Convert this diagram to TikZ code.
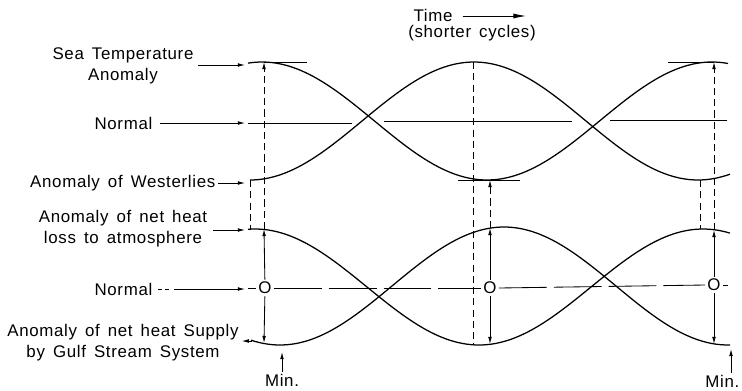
\documentclass[tikz,border=0pt]{standalone}
\usepackage{fontspec}
\setmainfont{Liberation Sans}[LetterSpace=4,WordSpace=1.5]
\usepackage{tikz}
\usetikzlibrary{arrows.meta,positioning,calc}

\begin{document}
\begin{tikzpicture}[
    x=0.025cm, y=-0.025cm,
    lbl/.style={align=center, font=\fontsize{12}{15}\selectfont, inner sep=1pt},
    zero/.style={font=\fontsize{12}{12}\selectfont, inner sep=1.5pt},
    curve/.style={line width=0.9pt},
    guide/.style={line width=0.6pt},
    vline/.style={line width=0.6pt, dash pattern=on 5pt off 3pt},
    ptr/.style={-{Latex[length=5pt,width=2.6pt]}, line width=0.6pt},
    bigptr/.style={-{Latex[length=9pt,width=3.6pt]}, line width=0.6pt}
]
    \useasboundingbox (0,0) rectangle (742,390);

    % upper panel: sea temperature and westerlies
    \draw [curve] plot[domain=248:728, samples=120] (\x, {121-59*cos(0.8*(\x-262))});
    \draw [curve] plot[domain=250:730, samples=120] (\x, {121+59*cos(0.80357*(\x-250))});
    \draw [guide] (248,123) -- (352,123);
    \draw [guide] (384,121) -- (572,121);
    \draw [guide] (610,120) -- (727,120);

    % lower panel: heat loss and heat supply
    \draw [curve] plot[domain=248:730, samples=120] (\x, {287-58*cos(0.80357*(\x-255))});
    \draw [curve] plot[domain=251:730, samples=120] (\x, {286+59*cos(0.80357*(\x-280))});

    % points on the curves
    \coordinate (st1) at (264,62);
    \coordinate (st2) at (490,180);
    \coordinate (st3) at (714,62);
    \coordinate (we1) at (250,180);
    \coordinate (we2) at (473,62);
    \coordinate (we3) at (700,180);
    \coordinate (hl0) at (250,229);
    \coordinate (hl1) at (264,229);
    \coordinate (hl2) at (473,345);
    \coordinate (hl3) at (714,230);
    \coordinate (hl3b) at (700,229);
    \coordinate (hs0) at (252,341);
    \coordinate (hs1) at (264,343);
    \coordinate (hs2m) at (490,228);
    \coordinate (hs2) at (490,344);
    \coordinate (hs3) at (714,344);

    % ticks at the extremes
    \draw [guide] (st1) -- (307,62);
    \draw [guide] (458,180) -- (520,180);
    \draw [guide] (668,62) -- (st3);

    % labels on the left
    \node [lbl] (sst) at (123,66) {Sea Temperature\\Anomaly};
    \node [lbl, anchor=east] (nrm1) at (154,123) {Normal};
    \node [lbl, anchor=east] (wst) at (217,183) {Anomaly of Westerlies};
    \node [lbl] (hloss) at (123,229) {Anomaly of net heat\\loss to atmosphere};
    \node [lbl, anchor=east] (nrm2) at (154,289) {Normal};
    \node [lbl] (hsup) at (123,343) {Anomaly of net heat Supply\\by Gulf Stream System};

    \coordinate (sstend) at (245,65);
    \coordinate (nrm1end) at (245,123);
    \coordinate (wstend) at (245,183);
    \coordinate (hlossend) at (245,230);
    \coordinate (nrm2end) at (245,289);
    \draw [ptr, shorten <=2pt] (sst.east |- sstend) -- (sstend);
    \draw [ptr, shorten <=4pt] (nrm1.east) -- (nrm1end);
    \draw [ptr, shorten <=1pt] (wst.east) -- (wstend);
    \draw [ptr, shorten <=3pt] (hloss.east |- hlossend) -- (hlossend);
    \draw [ptr, shorten <=3pt, dash pattern=on 3pt off 2pt on 3pt off 3pt on 60pt off 1pt] (nrm2.east) -- (nrm2end);
    \draw [ptr, shorten >=1pt] (hs0) -- (hsup.east |- hs0);

    % zero marks on the lower normal
    \node [zero] (o1) at (265,288) {O};
    \node [zero] (o2) at (490,288) {O};
    \node [zero] (o3) at (714,285) {O};
    \draw [guide] (248,288) -- (o1.west);
    \draw [guide, dash pattern=on 34pt off 5pt] (o1.east) -- (o2.west);
    \draw [guide, dash pattern=on 34pt off 5pt] (o2.east) -- (o3.west);
    \draw [guide] (o3.east) -- (728,285);

    % left phase
    \draw [vline] (we1) -- (hl0);
    \draw [vline, ptr] (hl1) -- (st1);
    \draw [ptr] (o1) -- (hl1);
    \draw [ptr] (o1) -- (hs1);

    % middle phase
    \draw [vline] (we2) -- (hl2);
    \draw [vline, ptr] (hs2m) -- (st2);
    \draw [ptr] (o2) -- (hs2m);
    \draw [ptr] (o2) -- (hs2);

    % right phase
    \draw [vline] (we3) -- (hl3b);
    \draw [vline, ptr] (hl3) -- (st3);
    \draw [ptr] (o3) -- (hl3);
    \draw [ptr] (o3) -- (hs3);

    % minima
    \node [lbl] (min1) at (282,380) {Min.};
    \coordinate (min1tip) at (282,352);
    \draw [ptr] (min1.north) -- (min1tip);
    \node [lbl, anchor=east] (min2) at (741,381) {Min.};
    \coordinate (min2tip) at (731,349);
    \draw [ptr] (min2.north -| min2tip) -- (min2tip);

    % time axis
    \node [lbl] (time) at (433,15) {Time};
    \coordinate (timeend) at (526,16);
    \draw [bigptr, shorten <=6pt] (time.east |- timeend) -- (timeend);
    \node [lbl] (cyc) at (472,33) {(shorter cycles)};
\end{tikzpicture}
\end{document}
